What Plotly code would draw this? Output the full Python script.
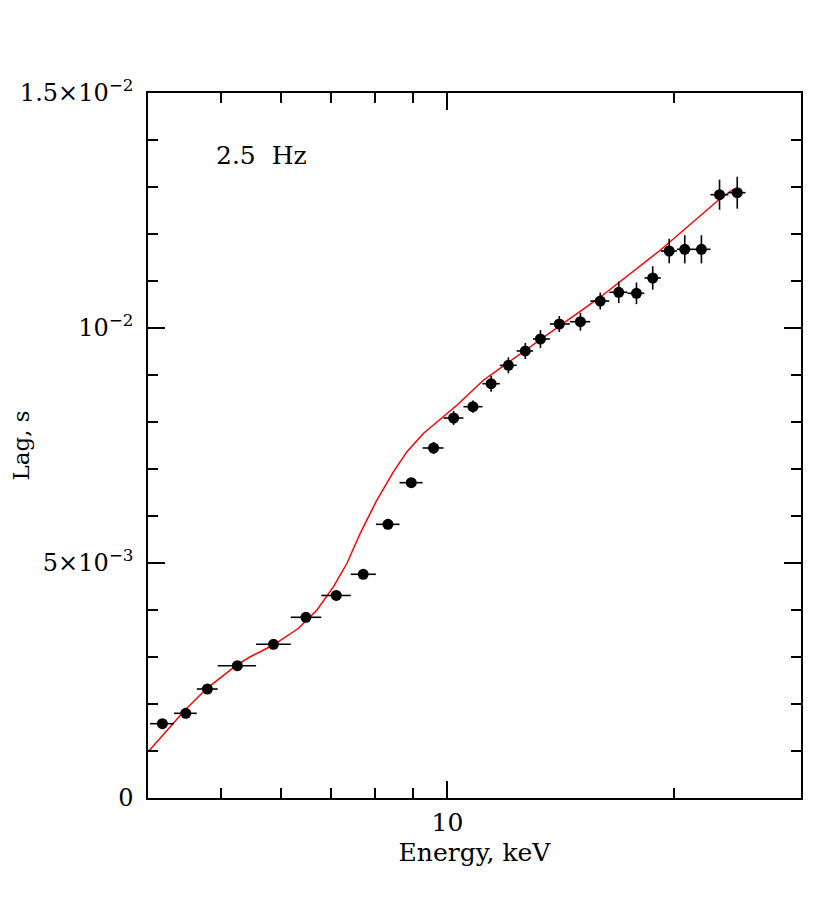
import plotly.graph_objects as go

# data
energy = [4.180, 4.490, 4.797, 5.258, 5.872, 6.485, 7.116, 7.728, 8.335, 8.952,
          9.584, 10.19, 10.81, 11.43, 12.05, 12.69, 13.29, 14.08, 15.02, 15.96,
          16.89, 17.83, 18.74, 19.71, 20.67, 21.75, 22.99, 24.27]
bin_edges = [4.025, 4.332, 4.644, 4.951, 5.568, 6.191, 6.797, 7.439, 8.034, 8.636,
             9.267, 9.881, 10.50, 11.13, 11.74, 12.36, 12.99, 13.68, 14.54, 15.48,
             16.41, 17.34, 18.27, 19.21, 20.18, 21.20, 22.36, 23.62, 24.89]
lag = [0.001581, 0.001802, 0.002319, 0.002815, 0.003270, 0.003845, 0.004309, 0.004760,
       0.005823, 0.006709, 0.007447, 0.008085, 0.008326, 0.008815, 0.009206, 0.009511,
       0.009766, 0.010085, 0.010134, 0.010574, 0.010760, 0.010738, 0.011064, 0.011638,
       0.011674, 0.011674, 0.012836, 0.012879]
lag_err = [0.00004, 0.00004, 0.00005, 0.00005, 0.00005, 0.00006, 0.00006, 0.00006,
           0.00008, 0.00009, 0.00013, 0.00015, 0.00013, 0.00017, 0.00017, 0.00017,
           0.00019, 0.00017, 0.00019, 0.00018, 0.00023, 0.00023, 0.00025, 0.00026,
           0.00030, 0.00030, 0.00032, 0.00034]

# model curve
model_e = [4.004, 4.48, 4.79, 5.25, 5.47, 5.87, 6.34, 6.708, 7.057, 7.353, 7.657,
           8.058, 8.479, 8.835, 9.295, 9.683, 10.30, 11.17, 14.08, 15.97, 19.19,
           22.98, 23.97]
model_lag = [0.000989, 0.001872, 0.002334, 0.00283, 0.003006, 0.003255, 0.003611,
             0.004000, 0.004496, 0.004994, 0.005632, 0.006340, 0.006943, 0.007368,
             0.007760, 0.008006, 0.008362, 0.008894, 0.01004, 0.01066, 0.01166,
             0.01274, 0.01295]

err_plus = [bin_edges[i + 1] - energy[i] for i in range(len(energy))]
err_minus = [energy[i] - bin_edges[i] for i in range(len(energy))]

font = "DejaVu Serif"

fig = go.Figure()
fig.add_trace(go.Scatter(x=model_e, y=model_lag, mode="lines",
                         line=dict(color="red", width=1.5), showlegend=False))
fig.add_trace(go.Scatter(
    x=energy, y=lag, mode="markers",
    marker=dict(color="black", size=11),
    error_x=dict(type="data", symmetric=False, array=err_plus, arrayminus=err_minus,
                 color="black", thickness=1.6, width=0),
    error_y=dict(type="data", array=lag_err, color="black", thickness=1.6, width=0),
    showlegend=False))

fig.add_annotation(x=0.101, y=0.911, xref="paper", yref="paper", text="2.5  Hz",
                   showarrow=False, xanchor="left", yanchor="middle",
                   font=dict(family=font, size=25, color="black"))

fig.update_xaxes(
    type="log", range=[0.60206, 1.4698], automargin=False,
    tickvals=[10], ticktext=["10"], ticks="inside", ticklen=17, tickwidth=1.5,
    tickcolor="black", minor=dict(tickvals=[5, 6, 7, 8, 9, 20], ticks="inside",
                                  ticklen=10, tickwidth=1.5, tickcolor="black"),
    showline=True, linecolor="black", linewidth=1.5, mirror="ticks",
    showgrid=False, zeroline=False, ticklabelstandoff=1,
    tickfont=dict(family=font, size=25, color="black"),
    title=dict(text="Energy, keV", font=dict(family=font, size=25, color="black"), standoff=8))

fig.update_yaxes(
    range=[0, 0.015], automargin=False,
    tickvals=[0, 0.005, 0.01, 0.015],
    ticktext=["0", "5×10<sup>−3</sup>", "10<sup>−2</sup>", "1.5×10<sup>−2</sup>"],
    ticks="inside", ticklen=17, tickwidth=1.5, tickcolor="black",
    minor=dict(dtick=0.001, ticks="inside", ticklen=10, tickwidth=1.5, tickcolor="black"),
    showline=True, linecolor="black", linewidth=1.5, mirror="ticks",
    showgrid=False, zeroline=False, ticklabelstandoff=8,
    tickfont=dict(family=font, size=24, color="black"),
    title=dict(text="Lag, s", font=dict(family=font, size=23, color="black"), standoff=14))

fig.update_layout(width=830, height=911, plot_bgcolor="white", paper_bgcolor="white",
                  margin=dict(l=140, r=37, t=85, b=121))

fig.write_html("out.html")
